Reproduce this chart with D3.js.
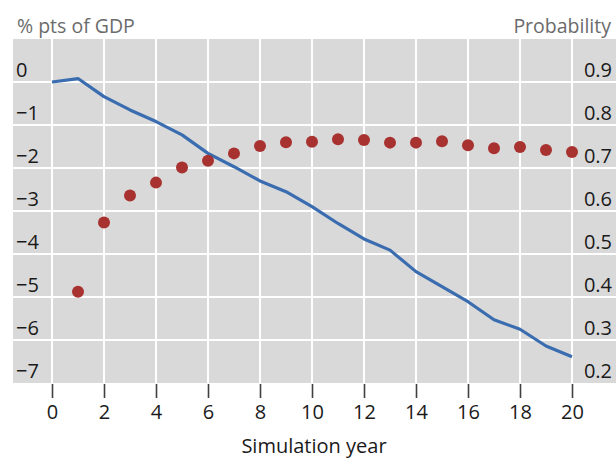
<!DOCTYPE html>
<html>
<head>
<meta charset="utf-8">
<script src="https://cdn.jsdelivr.net/npm/d3@7"></script>
<style>
  html, body { margin: 0; padding: 0; background: #ffffff; }
  svg { display: block; }
  text { font-family: "Open Sans", "Noto Sans", sans-serif; }
</style>
</head>
<body>
<svg id="chart" width="616" height="459"></svg>
<script>
// ---- Data ----
const years = [0,1,2,3,4,5,6,7,8,9,10,11,12,13,14,15,16,17,18,19,20];
const gdpImpact = [0.0, 0.08, -0.34, -0.65, -0.92, -1.23, -1.66, -1.97, -2.30, -2.55, -2.90,
                   -3.29, -3.65, -3.91, -4.41, -4.76, -5.11, -5.53, -5.75, -6.14, -6.39];
const probYears = [1,2,3,4,5,6,7,8,9,10,11,12,13,14,15,16,17,18,19,20];
const probability = [0.412, 0.573, 0.636, 0.666, 0.701, 0.717, 0.734, 0.751, 0.760, 0.761,
                     0.767, 0.765, 0.759, 0.759, 0.762, 0.753, 0.746, 0.749, 0.742, 0.737];
const xTicks = [0,2,4,6,8,10,12,14,16,18,20];
const leftTicks = [0,-1,-2,-3,-4,-5,-6,-7];
const rightTicks = [0.9,0.8,0.7,0.6,0.5,0.4,0.3,0.2];
const leftTitle = "% pts of GDP";
const rightTitle = "Probability";
const xTitle = "Simulation year";

// ---- Layout ----
const plot = { left: 13, right: 616, top: 39, bottom: 383 };
const FONT = "'Open Sans', 'Noto Sans', sans-serif";

const svg = d3.select("#chart");

const x = d3.scaleLinear().domain([0, 20]).range([52, 572]);
const yL = d3.scaleLinear().domain([-7, 1]).range([plot.bottom, plot.top]);
const yR = d3.scaleLinear().domain([0.2, 1.0]).range([plot.bottom, plot.top]);

// background
svg.append("rect")
  .attr("x", plot.left).attr("y", plot.top)
  .attr("width", plot.right - plot.left).attr("height", plot.bottom - plot.top)
  .attr("fill", "#d9d9d9");

// horizontal gridlines
svg.append("g").selectAll("line")
  .data(leftTicks.filter(d => d > -7))
  .join("line")
  .attr("x1", plot.left).attr("x2", plot.right)
  .attr("y1", d => yL(d)).attr("y2", d => yL(d))
  .attr("stroke", "#ffffff").attr("stroke-width", 2);

// vertical gridlines
svg.append("g").selectAll("line")
  .data(xTicks)
  .join("line")
  .attr("x1", d => x(d)).attr("x2", d => x(d))
  .attr("y1", plot.top).attr("y2", plot.bottom)
  .attr("stroke", "#ffffff").attr("stroke-width", 2);

// x axis ticks + labels
const xAxis = d3.axisBottom(x).tickValues(xTicks).tickSize(14).tickPadding(7).tickFormat(d3.format("d"));
const gx = svg.append("g").attr("transform", `translate(0,${plot.bottom + 1})`).call(xAxis);
gx.select(".domain").remove();
gx.selectAll(".tick line").attr("stroke", "#404040").attr("stroke-width", 1.6);
gx.selectAll(".tick text")
  .attr("fill", "#1a1a1a")
  .style("font-size", "20px")
  .style("font-family", FONT);

// left axis labels (sitting just above their gridlines)
const fmtMinus = d => (d < 0 ? "\u2212" + Math.abs(d) : String(d));
svg.append("g").selectAll("text")
  .data(leftTicks)
  .join("text")
  .attr("x", 16)
  .attr("y", d => yL(d) - 5)
  .attr("fill", "#1a1a1a")
  .style("font-size", "20px")
  .text(fmtMinus);

// right axis labels
svg.append("g").selectAll("text")
  .data(rightTicks)
  .join("text")
  .attr("x", 612)
  .attr("y", d => yR(d) - 5)
  .attr("text-anchor", "end")
  .attr("fill", "#1a1a1a")
  .style("font-size", "20px")
  .text(d => d3.format(".1f")(d));

// axis titles
svg.append("text")
  .attr("x", 17).attr("y", 33)
  .attr("fill", "#6b6b6b")
  .style("font-size", "19.5px")
  .text(leftTitle);

svg.append("text")
  .attr("x", 611).attr("y", 33)
  .attr("text-anchor", "end")
  .attr("fill", "#6b6b6b")
  .style("font-size", "19.5px")
  .text(rightTitle);

svg.append("text")
  .attr("x", 314).attr("y", 453)
  .attr("text-anchor", "middle")
  .attr("fill", "#1a1a1a")
  .style("font-size", "20px")
  .text(xTitle);

// line series (left axis)
const line = d3.line()
  .x((d, i) => x(years[i]))
  .y(d => yL(d));
svg.append("path")
  .datum(gdpImpact)
  .attr("d", line)
  .attr("fill", "none")
  .attr("stroke", "#3a6cb0")
  .attr("stroke-width", 3.2)
  .attr("stroke-linejoin", "round");

// dot series (right axis)
svg.append("g").selectAll("circle")
  .data(probability)
  .join("circle")
  .attr("cx", (d, i) => x(probYears[i]))
  .attr("cy", d => yR(d))
  .attr("r", 6)
  .attr("fill", "#a83230");
</script>
</body>
</html>
